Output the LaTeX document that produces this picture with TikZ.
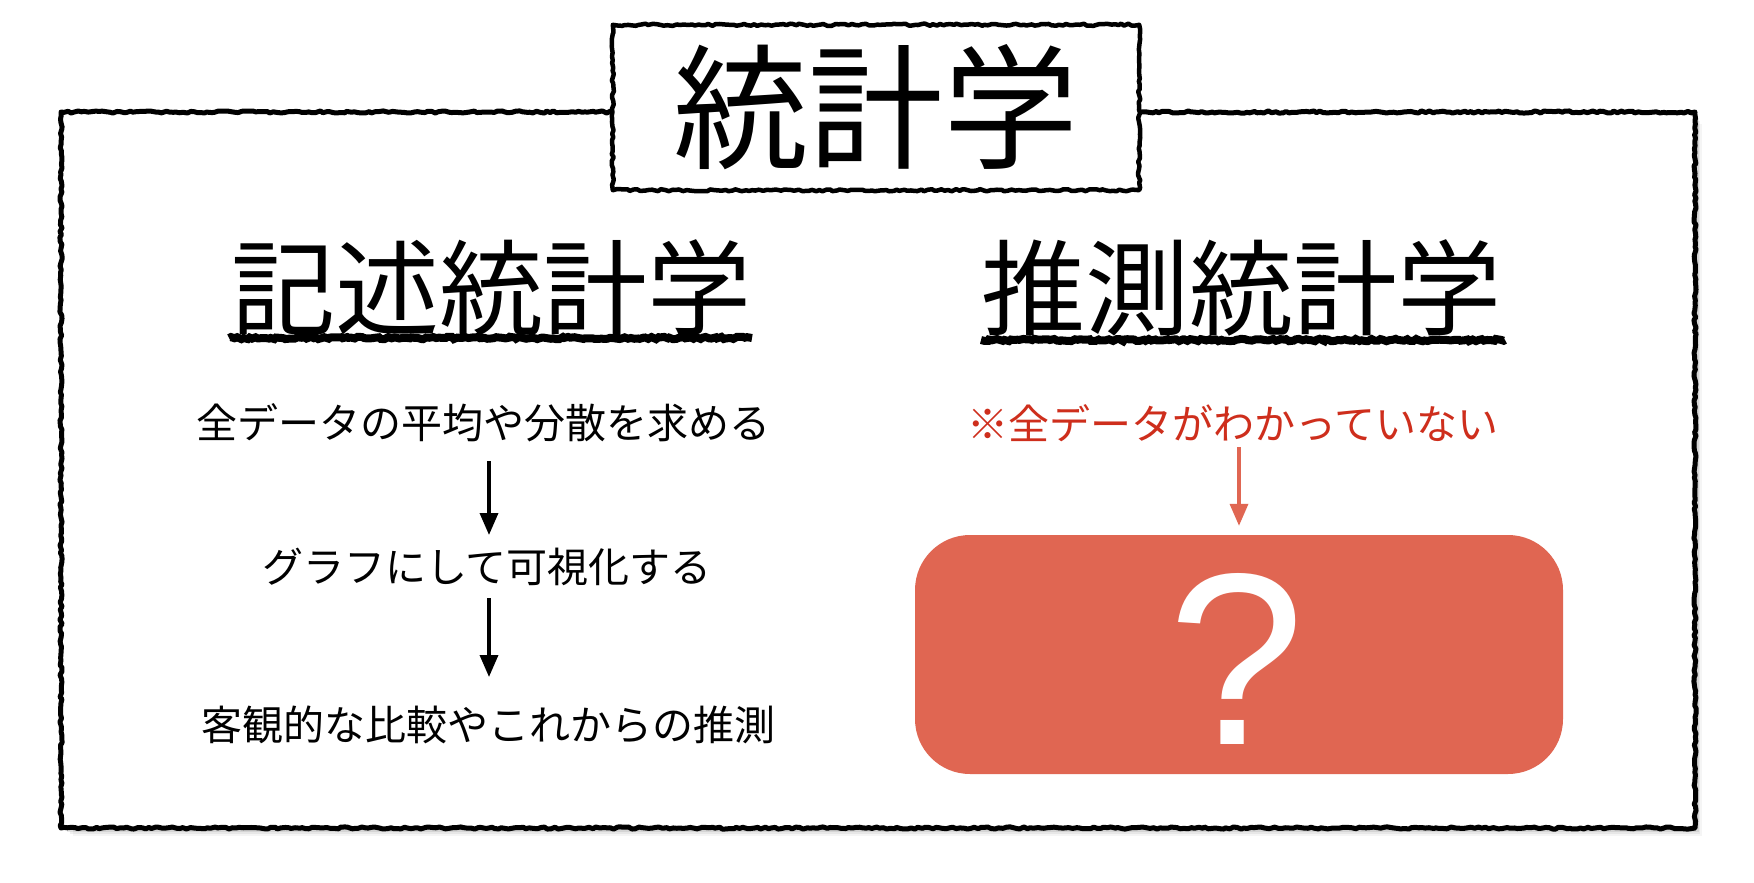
\documentclass[tikz,border=0pt]{standalone}
\usepackage{fontspec}
\newfontfamily\jp{Noto Sans CJK JP}
\newfontfamily\qfont{Liberation Sans}
\usetikzlibrary{decorations.pathmorphing,arrows.meta,calc}
\definecolor{boxred}{RGB}{224,102,82}
\definecolor{textred}{RGB}{206,46,28}
\tikzset{
  rough/.style={draw=black, line width=#1, line join=round, decorate,
    decoration={random steps, segment length=3.5pt, amplitude=1.1pt}},
  ulinestyle/.style={draw=black, line width=8pt, decorate,
    decoration={random steps, segment length=3pt, amplitude=1.2pt}},
  bodytext/.style={inner sep=0pt, font=\jp\fontsize{41}{45}\selectfont},
  headtext/.style={inner sep=0pt, font=\jp\fontsize{104}{110}\selectfont},
  arr/.style={line width=3.5pt, -{Triangle[length=22pt,width=18pt]}},
  rarr/.style={draw=boxred, line width=3.5pt, -{Triangle[length=22pt,width=18pt]}},
}
\begin{document}
\pgfmathsetseed{7}
\begin{tikzpicture}[x=1pt,y=-1pt]
\useasboundingbox (0,0) rectangle (1754,883);
% shadow of the frame
\foreach \d/\o in {3/0.10,6/0.08,9/0.06,12/0.04}{
  \fill[black, opacity=\o] (61+\d,112+\d) rectangle (1695+\d*0.6,828+\d*0.7);
}
\fill[white] (61,112) rectangle (1695,828);
\draw[rough=5pt] (61,112) rectangle (1695,828);
% title
\node[fill=white, minimum width=526pt, minimum height=165pt, inner sep=0pt,
      font=\jp\fontsize{135}{140}\selectfont] (title) at (876,107.5) {統計学};
\draw[rough=4.5pt] (title.north west) rectangle (title.south east);
% headings
\node[headtext] (lh) at (491,288) {記述統計学};
\node[headtext] (rh) at (1241,288) {推測統計学};
\draw[ulinestyle] (229,338) -- (752,338);
\draw[ulinestyle] (981,340) -- (1505,340);
% left flow
\node[bodytext] (t1) at (483,423) {全データの平均や分散を求める};
\node[bodytext] (t2) at (487,567) {グラフにして可視化する};
\node[bodytext] (t3) at (488,725) {客観的な比較やこれからの推測};
\draw[arr, shorten <=38pt, shorten >=32pt] (t1.center -| 489,0) -- (t2.center -| 489,0);
\draw[arr, shorten <=31pt, shorten >=48pt] (t2.center -| 489,0) -- (t3.center -| 489,0);
% right side
\node[bodytext, text=textred] (rt) at (1233,423) {※全データがわかっていない};
\node[fill=boxred, rounded corners=55pt, minimum width=648pt, minimum height=239pt,
      inner sep=0pt] (qbox) at (1239,654.5) {};
\node[anchor=base, inner sep=0pt, text=white,
      font=\qfont\fontsize{245}{245}\selectfont] (q) at (1237,744) {?};
\draw[rarr, shorten >=9pt] ([yshift=-24pt]qbox.north |- rt.center) -- (qbox.north);
\end{tikzpicture}
\end{document}
